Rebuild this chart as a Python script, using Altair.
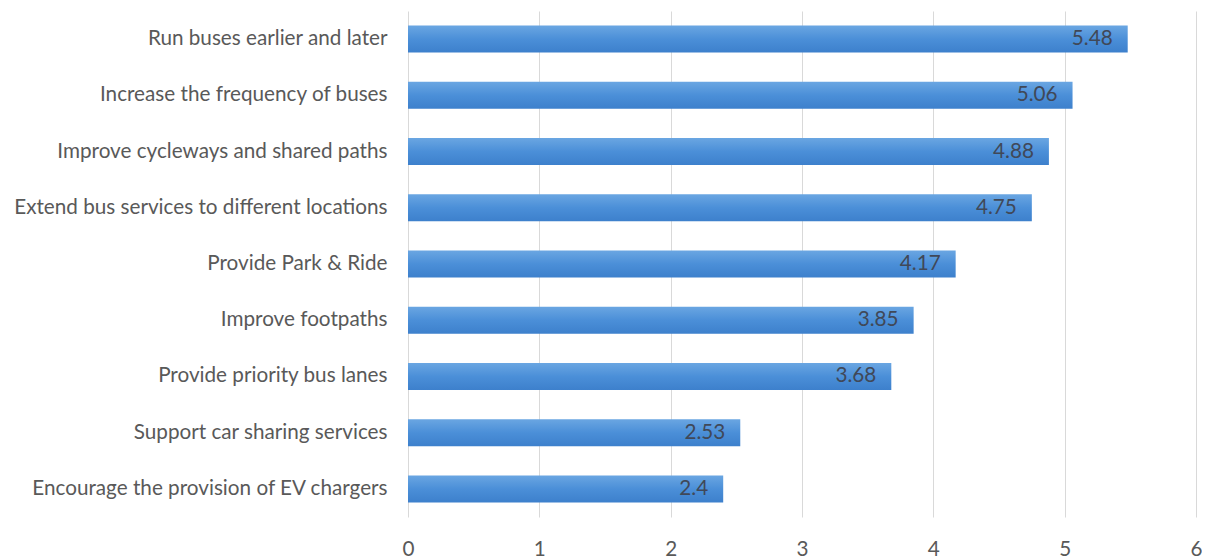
import altair as alt
import pandas as pd

categories = [
    "Run buses earlier and later",
    "Increase the frequency of buses",
    "Improve cycleways and shared paths",
    "Extend bus services to different locations",
    "Provide Park & Ride",
    "Improve footpaths",
    "Provide priority bus lanes",
    "Support car sharing services",
    "Encourage the provision of EV chargers",
]
values = [5.48, 5.06, 4.88, 4.75, 4.17, 3.85, 3.68, 2.53, 2.4]
labels = ["5.48", "5.06", "4.88", "4.75", "4.17", "3.85", "3.68", "2.53", "2.4"]

df = pd.DataFrame({"cat": categories, "val": values, "lab": labels})

FONT = "Lato"
FS = 20.7

y_enc = alt.Y(
    "cat:N",
    sort=categories,
    title=None,
    scale=alt.Scale(paddingInner=0.52, paddingOuter=0.26),
    axis=alt.Axis(
        domain=False,
        ticks=False,
        grid=False,
        labelFont=FONT,
        labelFontSize=FS,
        labelColor="#595959",
        labelPadding=21,
        labelLimit=420,
    ),
)

x_enc = alt.X(
    "val:Q",
    title=None,
    scale=alt.Scale(domain=[0, 6], nice=False),
    axis=alt.Axis(
        values=[0, 1, 2, 3, 4, 5, 6],
        domain=False,
        ticks=False,
        grid=True,
        gridColor="#d9d9d9",
        gridWidth=1,
        labelFont=FONT,
        labelFontSize=FS,
        labelColor="#595959",
        labelPadding=22,
        labelFlush=False,
        format="d",
    ),
)

bars = alt.Chart(df).mark_bar(
    color=alt.Gradient(
        gradient="linear",
        x1=0, x2=0, y1=0, y2=1,
        stops=[
            alt.GradientStop(color="#6aa6e2", offset=0),
            alt.GradientStop(color="#4b8fd8", offset=0.5),
            alt.GradientStop(color="#3d80cc", offset=1),
        ],
    )
).encode(x=x_enc, y=y_enc)

text = alt.Chart(df).mark_text(
    align="right", baseline="middle", dx=-15, font=FONT, fontSize=FS, color="#404858"
).encode(x=alt.X("val:Q"), y=alt.Y("cat:N", sort=categories), text="lab:N")

chart = (
    alt.layer(bars, text)
    .properties(
        width=788,
        height=506,
        background="white",
        padding={"left": 400, "top": 3, "right": 6, "bottom": 41},
        autosize=alt.AutoSizeParams(type="none"),
    )
    .configure_view(strokeWidth=0, stroke="transparent")
)

chart.save("out.html", embed_options={"renderer": "svg", "actions": False})
